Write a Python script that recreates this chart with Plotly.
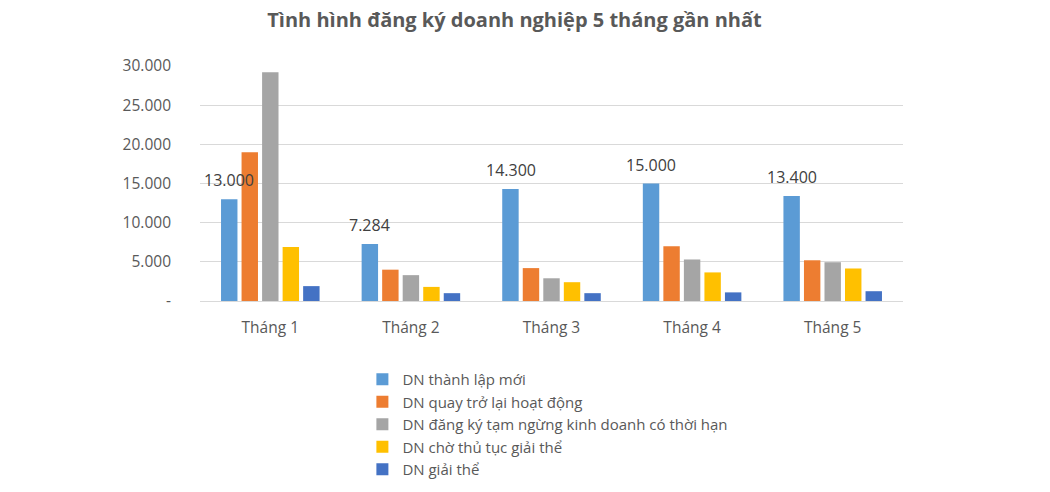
import plotly.graph_objects as go

months = ["Tháng 1", "Tháng 2", "Tháng 3", "Tháng 4", "Tháng 5"]
series_names = [
    "DN thành lập mới",
    "DN quay trở lại hoạt động",
    "DN đăng ký tạm ngừng kinh doanh có thời hạn",
    "DN chờ thủ tục giải thể",
    "DN giải thể",
]
thanh_lap_moi = [13000, 7284, 14300, 15000, 13400]
quay_tro_lai = [19000, 4000, 4200, 7000, 5200]
tam_ngung = [29200, 3300, 2900, 5300, 4950]
cho_giai_the = [6900, 1800, 2400, 3650, 4150]
giai_the = [1900, 1000, 1000, 1100, 1250]
label_texts = ["13.000", "7.284", "14.300", "15.000", "13.400"]

y_tickvals = [0, 5000, 10000, 15000, 20000, 25000, 30000]
y_ticktext = ["-", "5.000", "10.000", "15.000", "20.000", "25.000", "30.000"]

colors = ["#5B9BD5", "#ED7D31", "#A5A5A5", "#FFC000", "#4472C4"]
all_series = [thanh_lap_moi, quay_tro_lai, tam_ngung, cho_giai_the, giai_the]

FONT = "Open Sans"
TXT = "#595959"

fig = go.Figure()
for name, vals, col in zip(series_names, all_series, colors):
    fig.add_trace(go.Bar(x=months, y=vals, name=name, marker=dict(color=col, line=dict(width=0))))

# data labels for first series
for i, (m, v, t) in enumerate(zip(months, thanh_lap_moi, label_texts)):
    fig.add_annotation(
        x=m, y=v, text=t, showarrow=False, xref="x", yref="y",
        xshift=-41, yshift=19, font=dict(family=FONT, size=16, color="#404040"),
    )

fig.update_layout(
    width=1050, height=492,
    paper_bgcolor="white", plot_bgcolor="white",
    margin=dict(l=200, r=147, t=66, b=191, autoexpand=False),
    title=dict(
        text="<b>Tình hình đăng ký doanh nghiệp 5 tháng gần nhất</b>",
        x=0.49, xanchor="center", y=0.96, yanchor="middle",
        font=dict(family=FONT, size=20, color=TXT),
    ),
    barmode="group", bargap=0.27, bargroupgap=0.2,
    showlegend=True,
    legend=dict(
        orientation="v", x=0.231, xanchor="left",
        yref="container", y=0.262, yanchor="top",
        font=dict(family=FONT, size=15, color=TXT), itemwidth=30,
        bgcolor="rgba(0,0,0,0)", tracegroupgap=0,
    ),
    font=dict(family=FONT, color=TXT),
)
fig.update_yaxes(
    range=[0, 30000], tickvals=y_tickvals, ticktext=y_ticktext,
    showgrid=True, gridcolor="#D9D9D9", gridwidth=1, zeroline=False,
    showline=False, tickfont=dict(family=FONT, size=15.5, color=TXT),
    ticks="", ticklabelstandoff=28, automargin=False,
)
fig.update_xaxes(
    showgrid=False, showline=True, linecolor="#D9D9D9", linewidth=1,
    tickfont=dict(family=FONT, size=15.5, color=TXT), ticks="",
    ticklabelstandoff=12, automargin=False,
)

fig.write_html("out.html")
